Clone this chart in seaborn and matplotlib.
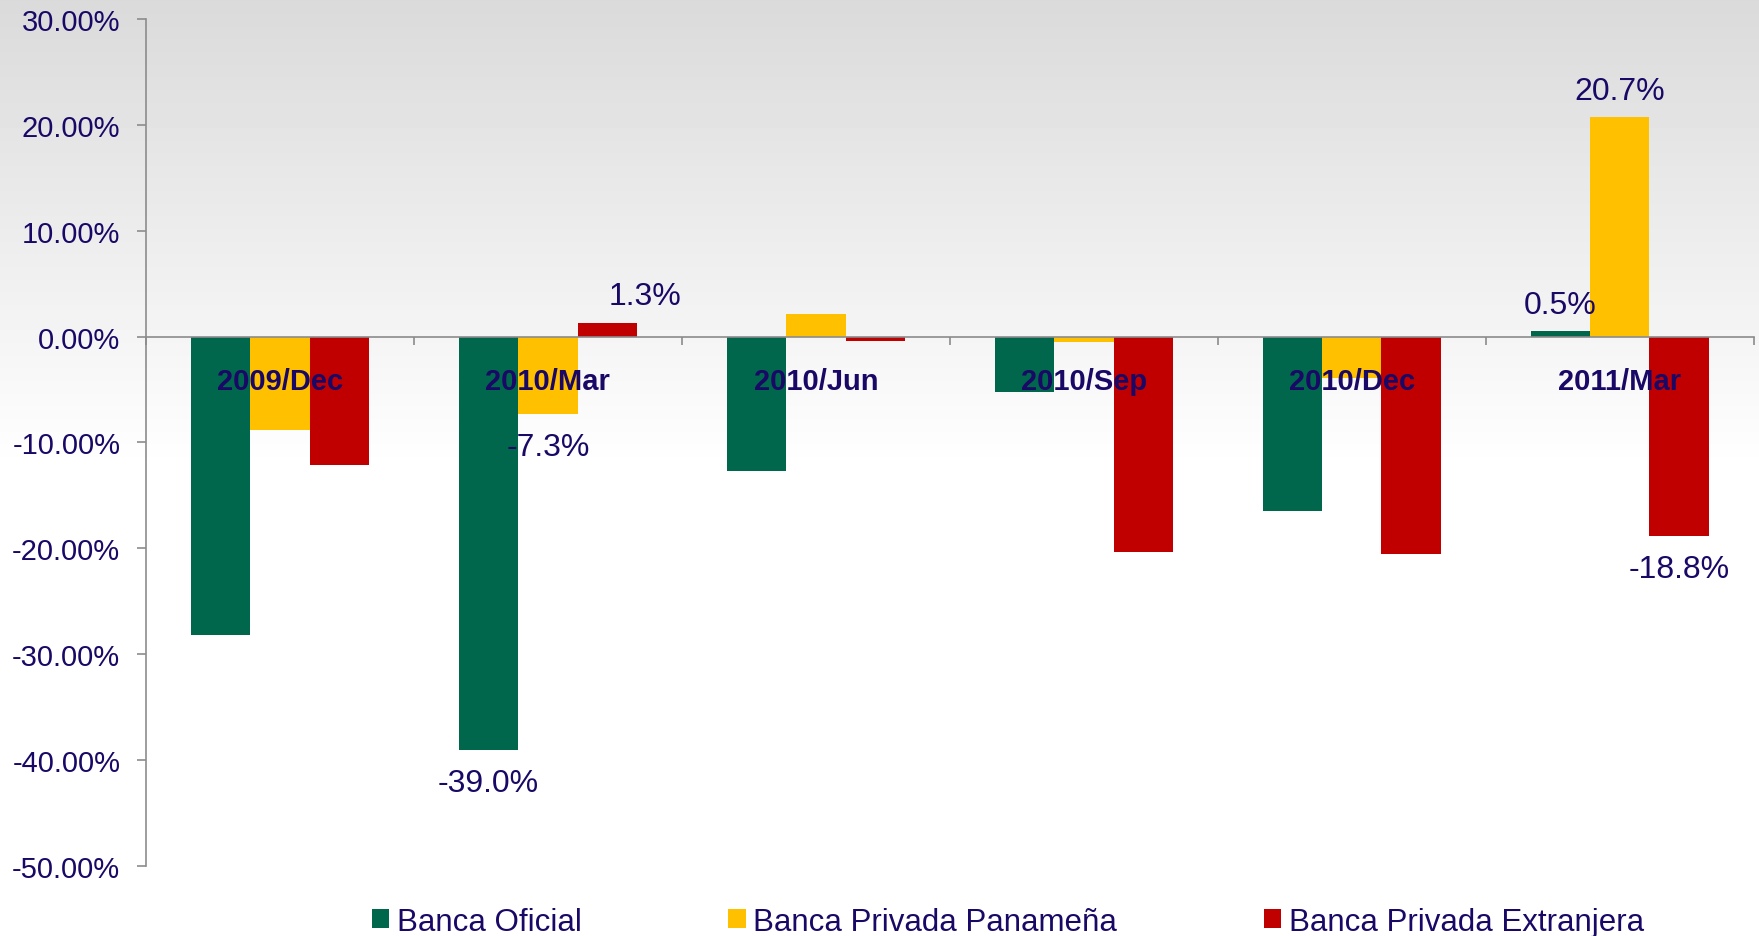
import numpy as np
import pandas as pd
import seaborn as sns
import matplotlib.pyplot as plt
from matplotlib.ticker import FuncFormatter

# data (percent change)
periods = ["2009/Dec", "2010/Mar", "2010/Jun", "2010/Sep", "2010/Dec", "2011/Mar"]
banca_oficial = [-28.2, -39.0, -12.7, -5.2, -16.5, 0.5]
banca_panamena = [-8.8, -7.3, 2.1, -0.5, -3.9, 20.7]
banca_extranjera = [-12.1, 1.3, -0.4, -20.3, -20.5, -18.8]
series_names = ["Banca Oficial", "Banca Privada Panameña", "Banca Privada Extranjera"]
y_ticks = [-50, -40, -30, -20, -10, 0, 10, 20, 30]
# bars that carry a value label: (series index, period index)
labelled = [(0, 1), (1, 1), (2, 1), (0, 5), (1, 5), (2, 5)]

colors = ["#00664C", "#FFC000", "#C00000"]
navy = "#1a0866"
grey = "#8c8c8c"

df = pd.DataFrame({
    "period": periods * 3,
    "value": banca_oficial + banca_panamena + banca_extranjera,
    "serie": [s for s in series_names for _ in periods],
})

sns.set_theme(style="white")
plt.rcParams["font.family"] = ["Liberation Sans", "DejaVu Sans"]

fig = plt.figure(figsize=(17.59, 9.37), dpi=100)
fig.patch.set_facecolor("white")

# grey-to-white gradient behind the chart
bg = fig.add_axes([0, 0, 1, 1], zorder=0)
rows = np.arange(937)
shade = np.clip(218 + 37 * rows / 470, 0, 255)
bg.imshow(shade[:, None], cmap="gray", vmin=0, vmax=255, aspect="auto",
          extent=[0, 1, 0, 1])
bg.axis("off")

ax = fig.add_axes([0.083, 0.0747, 0.914, 0.904], zorder=1)
ax.patch.set_alpha(0)

sns.barplot(data=df, x="period", y="value", hue="serie", palette=colors,
            width=0.665, saturation=1, errorbar=None, ax=ax, linewidth=0)

handles, labels = ax.get_legend_handles_labels()
ax.get_legend().remove()

ax.set_ylim(-50, 30)
ax.set_xlim(-0.5, len(periods) - 0.5)
ax.set_yticks(y_ticks)
ax.yaxis.set_major_formatter(FuncFormatter(lambda v, p: f"{v:.2f}%"))
ax.set_xticks(np.arange(len(periods) + 1) - 0.5)
ax.set_xticklabels([])
ax.set_xlabel("")
ax.set_ylabel("")

for s in ["top", "right"]:
    ax.spines[s].set_visible(False)
ax.spines["bottom"].set_position(("data", 0))
for s in ["left", "bottom"]:
    ax.spines[s].set_color(grey)
    ax.spines[s].set_linewidth(1.2)

ax.tick_params(axis="y", direction="out", length=6.5, width=1.2, color=grey,
               pad=12, labelsize=21, labelcolor=navy, left=True)
ax.tick_params(axis="x", direction="out", length=5.5, width=1.2, color=grey,
               bottom=True)

# category names drawn just under the zero line
for i, p in enumerate(periods):
    ax.text(i, -4.2, p, ha="center", va="center", fontsize=21,
            fontweight="bold", color=navy, zorder=5)

series_values = [banca_oficial, banca_panamena, banca_extranjera]
x_shift = {(2, 1): 27}
for si, ci in labelled:
    bar = ax.containers[si][ci]
    v = series_values[si][ci]
    xc = bar.get_x() + bar.get_width() / 2
    dy = 19 if v >= 0 else -24
    ax.annotate(f"{v:.1f}%", xy=(xc, v), xytext=(x_shift.get((si, ci), 0), dy),
                textcoords="offset points", ha="center", va="center",
                fontsize=23, color=navy, zorder=5)

fig.legend(handles, labels, loc="center", bbox_to_anchor=(0.573, 0.015),
           ncol=3, frameon=False, fontsize=22.5, labelcolor=navy,
           handlelength=0.55, handleheight=0.55, handletextpad=0.25,
           columnspacing=4.7)

fig.savefig("out.png", dpi=100)
